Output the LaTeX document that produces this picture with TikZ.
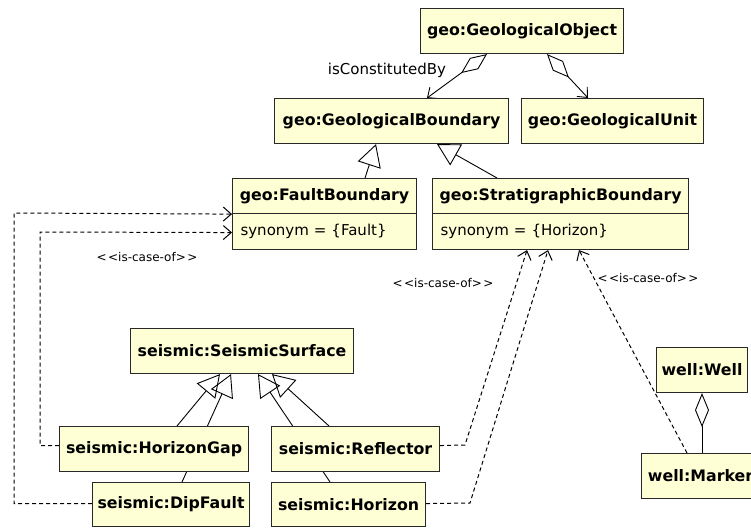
\documentclass[tikz,border=0pt]{standalone}
\usepackage{fontspec}
\setmainfont{DejaVu Sans}
\usetikzlibrary{arrows.meta}
\pgfdeclarelayer{background}
\pgfsetlayers{background,main}
\definecolor{umlfill}{RGB}{255,255,213}
\definecolor{umlline}{RGB}{40,40,40}
\begin{document}
\begin{tikzpicture}[x=1pt,y=-1pt,
  cls/.style={draw=umlline, fill=umlfill, line width=1.1pt, inner sep=0pt, anchor=north west,
    minimum height=45pt, font=\fontsize{15.8}{18}\selectfont\bfseries},
  attr/.style={draw=umlline, fill=umlfill, line width=1.1pt, inner xsep=8pt, inner ysep=0pt,
    anchor=north west, align=left, minimum height=36pt, font=\fontsize{15}{18}\selectfont},
  conn/.style={line width=0.9pt, draw=black},
  gen/.style={conn, -{Triangle[open,length=22pt,width=24pt]}},
  agg/.style={conn, {Diamond[open,length=32pt,width=14pt]}-{Straight Barb[length=8pt,width=14pt]}},
  aggp/.style={conn, {Diamond[open,length=34pt,width=14pt]}-},
  dep/.style={conn, line width=1pt, dash pattern=on 4pt off 3pt, -{Straight Barb[length=8pt,width=14pt]}},
  lbl/.style={font=\fontsize{12}{14}\selectfont, inner sep=0pt},
  rlbl/.style={font=\fontsize{15}{18}\selectfont, inner sep=0pt}
]
\useasboundingbox (0,0) rectangle (751,527);
\clip (0,0) rectangle (751,527);

% classes
\node[cls, minimum width=203pt] (go) at (420,8) {geo:GeologicalObject};
\node[cls, minimum width=234pt] (gb) at (274,98) {geo:GeologicalBoundary};
\node[cls, minimum width=182pt] (gu) at (521,98) {geo:GeologicalUnit};
\node[cls, minimum width=184pt, minimum height=35pt] (fbh) at (232,178) {geo:FaultBoundary};
\node[attr, text width=168pt] (fba) at (232,213) {synonym = \{Fault\}};
\node[cls, minimum width=256pt, minimum height=35pt] (sbh) at (432,178) {geo:StratigraphicBoundary};
\node[attr, text width=240pt] (sba) at (432,213) {synonym = \{Horizon\}};
\node[cls, minimum width=223pt] (ss) at (130,328) {seismic:SeismicSurface};
\node[cls, minimum width=189pt] (hg) at (59,426) {seismic:HorizonGap};
\node[cls, minimum width=168pt] (rf) at (271,426) {seismic:Reflector};
\node[cls, minimum width=157pt, minimum height=44pt] (df) at (92,482) {seismic:DipFault};
\node[cls, minimum width=124pt] (mk) at (641,453) {\hspace*{-6pt}well:Marker};
\node[cls, minimum width=154pt, minimum height=44pt] (hz) at (271,482) {seismic:Horizon};
\node[cls, minimum width=91pt] (ww) at (656,347) {well:Well};

% turn points
\coordinate (dfturn) at (14,213);
\coordinate (hgturn) at (40,232);
\coordinate (rfturn) at (465,445);
\coordinate (hzturn) at (470,503);

\begin{pgfonlayer}{background}
  \fill[white] (0,0) rectangle (751,527);
  % aggregations
  \draw[agg] ([xshift=67pt]go.south west) -- ([xshift=153pt]gb.north west);
  \draw[agg] ([xshift=127pt]go.south west) -- ([xshift=67pt]gu.north west);
  \draw[aggp] ([xshift=46pt]ww.south west) -- ([xshift=61pt]mk.north west);
  % generalizations
  \draw[gen] ([xshift=133pt]fbh.north west) -- ([xshift=102pt]gb.south west);
  \draw[gen] ([xshift=65pt]sbh.north west) -- ([xshift=163pt]gb.south west);
  \draw[gen] ([xshift=118pt]hg.north west) -- ([xshift=90pt]ss.south west);
  \draw[gen] ([xshift=90pt]df.north west) -- ([xshift=101pt]ss.south west);
  \draw[gen] ([xshift=58pt]rf.north west) -- ([xshift=142pt]ss.south west);
  \draw[gen] ([xshift=59pt]hz.north west) -- ([xshift=128pt]ss.south west);
  % dependencies
  \draw[dep] ([yshift=1pt]df.west) -| (dfturn) -- (fbh.south west);
  \draw[dep] ([yshift=3.5pt]hg.west) -| (hgturn) -- ([yshift=-1pt]fba.west);
  \draw[dep] ([yshift=3.5pt]rf.east) -- (rfturn) -- ([xshift=95pt]sba.south west);
  \draw[dep] ([yshift=1pt]hz.east) -- (hzturn) -- ([xshift=116pt]sba.south west);
  \draw[dep] ([xshift=46pt]mk.north west) -- ([xshift=147pt]sba.south west);
\end{pgfonlayer}

% labels
\node[rlbl] (lcon) at (387,70) {isConstitutedBy};
\node[lbl] (l1) at (147,257) {<\kern1.5pt<is-case-of>\kern1.5pt>};
\node[lbl] (l2) at (443,283) {<\kern1.5pt<is-case-of>\kern1.5pt>};
\node[lbl] (l3) at (648,278) {<\kern1.5pt<is-case-of>\kern1.5pt>};
\end{tikzpicture}
\end{document}
